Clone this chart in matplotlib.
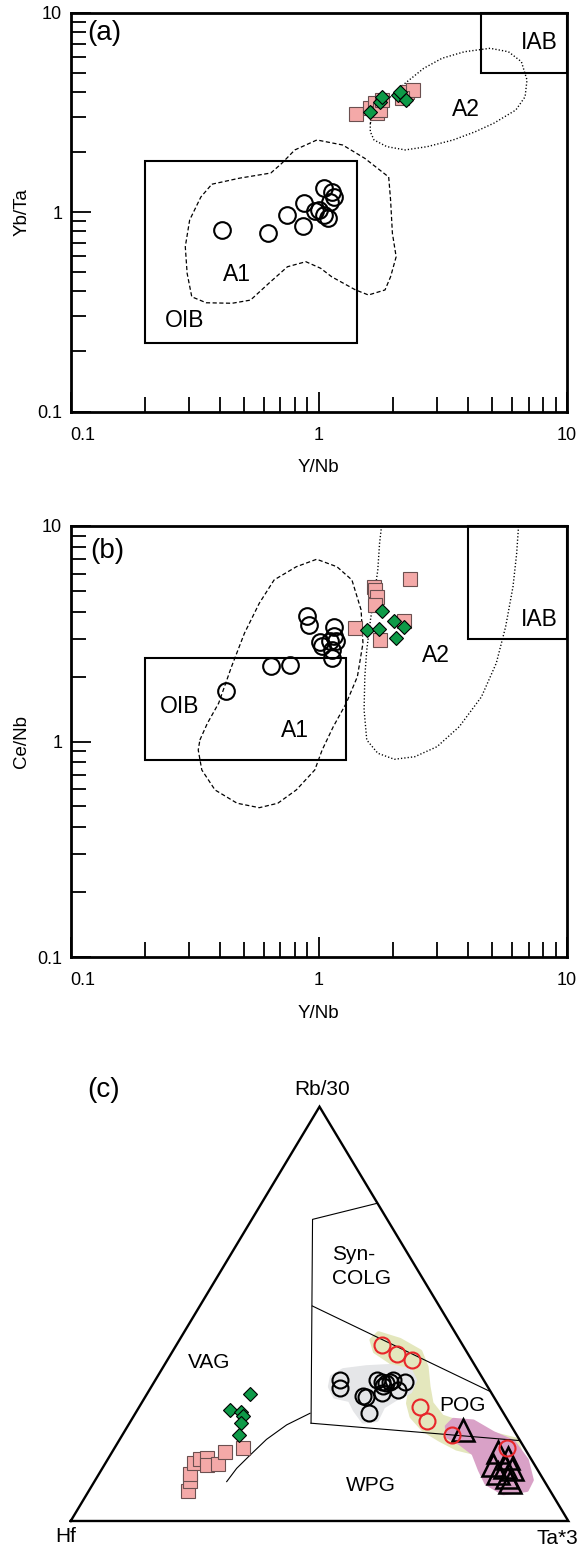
import numpy as np
from matplotlib import pyplot as plt
from matplotlib.patches import Rectangle, Polygon
from matplotlib.ticker import FixedLocator, LogLocator, NullFormatter

plt.rcParams['font.family'] = ['Liberation Sans', 'DejaVu Sans']
plt.rcParams['lines.scale_dashes'] = False

# ---------------- (a) Yb/Ta vs Y/Nb ----------------
a_circ_x = [0.408, 0.626, 0.748, 0.863, 0.875, 0.966, 1.0, 1.052, 1.127, 1.147, 1.052, 1.089, 1.108]
a_circ_y = [0.813, 0.783, 0.967, 0.855, 1.115, 1.016, 1.024, 1.316, 1.266, 1.195, 0.967, 0.931, 1.128]
a_sq_x = [1.409, 1.609, 1.685, 1.712, 1.765, 1.793, 2.262, 2.404, 2.158]
a_sq_y = [3.09, 3.32, 3.51, 3.13, 3.25, 3.65, 4.02, 4.10, 3.72]
a_dia_x = [1.609, 1.765, 1.793, 2.091, 2.125, 2.247]
a_dia_y = [3.19, 3.58, 3.79, 3.87, 4.02, 3.65]

a_oib = [0.2, 1.43, 0.22, 1.8]   # x0, x1, y0, y1
a_iab = [4.5, 10, 5.0, 10]
a_A1_x = [0.371, 0.480, 0.641, 0.711, 0.801, 0.983, 1.249, 1.533, 1.913, 1.947, 1.980, 2.05, 1.947,
          1.849, 1.586, 1.407, 1.127, 1.017, 0.887, 0.748, 0.630, 0.531, 0.448, 0.352, 0.308, 0.295,
          0.290, 0.302, 0.335, 0.371]
a_A1_y = [1.38, 1.48, 1.57, 1.76, 2.05, 2.30, 2.17, 1.86, 1.50, 1.15, 0.783, 0.597, 0.474,
          0.407, 0.384, 0.407, 0.474, 0.523, 0.564, 0.532, 0.44, 0.362, 0.349, 0.351, 0.376, 0.493,
          0.671, 0.913, 1.19, 1.38]
a_A2_x = [1.613, 1.698, 1.947, 2.23, 2.647, 3.14, 3.86, 4.90, 5.81, 6.55, 6.90, 6.78, 6.22, 5.07,
          4.27, 3.48, 2.74, 2.23, 1.88, 1.67, 1.613, 1.613]
a_A2_y = [2.79, 3.25, 3.79, 4.43, 5.26, 5.91, 6.37, 6.63, 6.37, 5.68, 4.60, 3.79, 3.25, 2.79,
          2.53, 2.30, 2.13, 2.05, 2.13, 2.30, 2.53, 2.79]

# ---------------- (b) Ce/Nb vs Y/Nb ----------------
b_circ_x = [0.424, 0.640, 0.766, 0.897, 0.916, 1.008, 1.027, 1.128, 1.152, 1.152, 1.174, 1.126, 1.110]
b_circ_y = [1.71, 2.23, 2.26, 3.81, 3.47, 2.90, 2.77, 2.43, 3.41, 3.08, 2.94, 2.66, 2.93]
b_sq_x = [1.40, 1.67, 1.692, 1.717, 1.692, 1.765, 2.33, 2.195]
b_sq_y = [3.35, 5.23, 5.05, 4.66, 4.30, 2.97, 5.66, 3.64]
b_dia_x = [1.569, 1.754, 1.793, 2.015, 2.205, 2.047]
b_dia_y = [3.29, 3.32, 4.05, 3.64, 3.41, 3.01]

b_oib = [0.2, 1.29, 0.82, 2.45]
b_iab = [4.0, 10, 3.0, 10]
b_A1_x = [0.332, 0.356, 0.395, 0.445, 0.502, 0.576, 0.661, 0.812, 0.981, 1.184, 1.36, 1.481, 1.507,
          1.431, 1.29, 1.144, 1.032, 0.964, 0.812, 0.684, 0.576, 0.469, 0.382, 0.338, 0.327, 0.332]
b_A1_y = [1.016, 1.215, 1.504, 2.22, 3.18, 4.38, 5.62, 6.47, 7.01, 6.47, 5.62, 4.08, 2.86,
          2.00, 1.504, 1.171, 0.913, 0.738, 0.596, 0.517, 0.493, 0.517, 0.596, 0.738, 0.913, 1.016]
b_A2_x = [1.79, 1.758, 1.729, 1.671, 1.615, 1.561, 1.533, 1.523, 1.561, 1.729, 2.017, 2.437, 2.995,
          3.68, 4.52, 5.19, 5.66, 6.06, 6.27, 6.38]
b_A2_y = [10.0, 8.31, 6.25, 4.70, 3.66, 2.66, 2.00, 1.40, 1.016, 0.882, 0.827, 0.850, 0.946,
          1.171, 1.61, 2.31, 3.41, 5.23, 7.47, 10.0]

# ---------------- (c) Hf - Rb/30 - Ta*3 (percent Rb/30, Ta*3; Hf = rest) ----------------
c_sq_rb = [7.3, 9.7, 11.3, 14.1, 14.9, 15.1, 13.5, 13.7, 16.6, 17.7]
c_sq_ta = [19.9, 19.1, 18.3, 17.7, 18.5, 19.9, 20.7, 22.8, 22.7, 25.7]
c_dia_rb = [30.7, 26.8, 26.4, 25.3, 23.7, 20.8]
c_dia_ta = [20.6, 18.6, 21.0, 22.0, 22.4, 23.5]
c_circ_rb = [34.0, 32.0, 30.2, 29.9, 26.1, 34.0, 33.6, 33.2, 33.6, 32.6, 30.8, 31.6, 33.6, 34.0]
c_circ_ta = [37.1, 38.1, 43.6, 44.4, 46.9, 44.6, 45.7, 46.7, 47.4, 46.5, 47.1, 50.0, 50.4, 47.8]
c_red_rb = [42.5, 40.3, 38.9, 27.6, 24.1, 20.8, 17.5]
c_red_ta = [41.3, 45.4, 49.2, 56.3, 59.5, 66.2, 79.0]
c_tri_rb = [22.0, 16.7, 15.1, 13.5, 13.1, 12.5, 11.7, 10.7, 9.5]
c_tri_ta = [67.9, 77.6, 80.4, 78.2, 80.7, 82.4, 80.1, 82.3, 83.5]

# field boundaries
c_line1_rb = [76.7, 72.8, 23.6]
c_line1_ta = [23.3, 12.2, 36.5]
c_line2_rb = [51.9, 31.2]
c_line2_ta = [22.6, 68.8]
c_line3_rb = [23.6, 19.4]
c_line3_ta = [36.5, 80.6]
c_curve_rb = [26.0, 23.2, 19.7, 15.9, 12.7, 9.5]
c_curve_ta = [35.1, 31.8, 29.5, 28.1, 27.0, 26.6]

# shaded envelopes
yellow_rb = [43.7, 45.3, 43.7, 40.9, 37.2, 32.4, 28.4, 25.2, 24.0, 21.2, 19.6, 17.1, 16.3, 17.5, 19.6,
             22.0, 25.2, 28.4, 31.6, 35.7, 38.5, 40.9]
yellow_ta = [38.6, 39.2, 44.3, 49.8, 52.9, 55.7, 58.3, 62.0, 65.6, 73.7, 79.8, 81.7, 73.4, 68.8, 64.4,
             59.9, 55.9, 53.6, 52.4, 49.3, 44.9, 40.7]
pink_rb = [22.8, 24.4, 24.0, 21.2, 19.1, 14.7, 9.9, 7.5, 6.7, 9.1, 12.3, 16.3, 18.8, 20.3]
pink_ta = [64.2, 64.7, 68.9, 74.3, 79.4, 84.3, 87.7, 87.9, 83.6, 79.0, 76.1, 72.8, 68.8, 65.7]
gray_rb = [34.8, 36.4, 37.1, 37.4, 36.4, 34.0, 31.2, 29.6, 27.6, 24.4, 24.0, 26.8, 29.2, 30.0, 32.4]
gray_ta = [35.1, 36.6, 40.9, 45.5, 50.0, 52.2, 52.6, 50.7, 49.0, 49.3, 46.8, 43.7, 41.5, 38.1, 35.9]

log_ticks = [0.1, 1, 10]
log_labels = ['0.1', '1', '10']

H_TRI = 0.8326

sq_style = dict(marker='s', ms=9.5, mfc='#f4a9a8', mec='#6b5050', mew=0.8, ls='none', zorder=4)
dia_style = dict(marker='D', ms=6.8, mfc='#0e9a48', mec='black', mew=0.8, ls='none', zorder=5)
circ_style = dict(marker='o', ms=12, mfc='none', mec='black', mew=1.5, ls='none', zorder=4)
field_font = 16.5
tern_font = 15


def tern(rb, ta):
    rb = np.asarray(rb) / 100.0
    ta = np.asarray(ta) / 100.0
    return ta + rb / 2.0, rb * H_TRI


def log_panel(ax, ylabel):
    ax.set_xscale('log')
    ax.set_yscale('log')
    ax.set_xlim(0.1, 10)
    ax.set_ylim(0.1, 10)
    for axis in (ax.xaxis, ax.yaxis):
        axis.set_major_locator(FixedLocator(log_ticks))
        axis.set_minor_locator(LogLocator(base=10, subs=np.arange(2, 10)))
        axis.set_minor_formatter(NullFormatter())
    ax.set_xticklabels(log_labels)
    ax.set_yticklabels(log_labels)
    ax.get_xticklabels()[0].set_ha('left')
    ax.tick_params(which='both', direction='in', top=False, right=False, width=1.3, labelsize=13)
    ax.tick_params(which='major', length=14.5)
    ax.tick_params(which='minor', length=11)
    ax.tick_params(axis='x', pad=11)
    ax.tick_params(axis='y', pad=6)
    for s in ax.spines.values():
        s.set_linewidth(2)
    ax.set_xlabel('Y/Nb', fontsize=13.5, labelpad=11)
    ax.set_ylabel(ylabel, fontsize=13.5, labelpad=5)


def box(ax, b):
    ax.add_patch(Rectangle((b[0], b[2]), b[1] - b[0], b[3] - b[2], fill=False,
                           lw=1.5, ec='black', zorder=2, clip_on=False))


def label(ax, x, y, s, size, ha='center'):
    ax.text(x, y, s, transform=ax.transAxes, fontsize=size, ha=ha, va='center')


if __name__ == '__main__':
    fig = plt.figure(figsize=(5.79, 15.49), dpi=100)

    # (a)
    ax = fig.add_axes([70.5 / 579, 1 - 411.5 / 1549, 496.5 / 579, 398.8 / 1549])
    log_panel(ax, 'Yb/Ta')
    box(ax, a_oib)
    box(ax, a_iab)
    ax.plot(a_A1_x, a_A1_y, color='black', lw=0.9, dashes=(3, 1.8), zorder=2)
    ax.plot(a_A2_x, a_A2_y, color='black', lw=1.0, dashes=(0.9, 1.5), zorder=2)
    ax.plot(a_circ_x, a_circ_y, **circ_style)
    ax.plot(a_sq_x, a_sq_y, **sq_style)
    ax.plot(a_dia_x, a_dia_y, **dia_style)
    label(ax, 0.033, 0.949, '(a)', 20, ha='left')
    label(ax, 0.335, 0.344, 'A1', field_font)
    label(ax, 0.229, 0.227, 'OIB', field_font)
    label(ax, 0.796, 0.758, 'A2', field_font)
    label(ax, 0.944, 0.925, 'IAB', field_font)

    # (b)
    ax = fig.add_axes([70.5 / 579, 1 - 957 / 1549, 496.5 / 579, 431 / 1549])
    log_panel(ax, 'Ce/Nb')
    box(ax, b_oib)
    box(ax, b_iab)
    ax.plot(b_A1_x, b_A1_y, color='black', lw=0.9, dashes=(3, 1.8), zorder=2)
    ax.plot(b_A2_x, b_A2_y, color='black', lw=1.0, dashes=(0.9, 1.5), zorder=2)
    ax.plot(b_circ_x, b_circ_y, **circ_style)
    ax.plot(b_sq_x, b_sq_y, **sq_style)
    ax.plot(b_dia_x, b_dia_y, **dia_style)
    label(ax, 0.039, 0.942, '(b)', 20, ha='left')
    label(ax, 0.2205, 0.581, 'OIB', field_font)
    label(ax, 0.452, 0.525, 'A1', field_font)
    label(ax, 0.736, 0.699, 'A2', field_font)
    label(ax, 0.945, 0.784, 'IAB', field_font)

    # (c) ternary
    ax = fig.add_axes([0, 0, 1, 499 / 1549])
    ax.set_xlim(-0.1421, 1.0215)
    ax.set_ylim(-0.0563, 0.9465)
    ax.axis('off')

    for rb, ta, clr in [(yellow_rb, yellow_ta, '#e4e7bd'), (pink_rb, pink_ta, '#d9a1c7'),
                        (gray_rb, gray_ta, '#e5e6e8')]:
        ax.add_patch(Polygon(np.column_stack(tern(rb, ta)), closed=True, fc=clr, ec=clr,
                             lw=3, joinstyle='round', zorder=1))

    tx, ty = tern([0, 0, 100, 0], [0, 100, 0, 0])
    ax.plot(tx, ty, color='black', lw=1.7, solid_joinstyle='miter', zorder=3)
    for rb, ta in [(c_line1_rb, c_line1_ta), (c_line2_rb, c_line2_ta),
                   (c_line3_rb, c_line3_ta), (c_curve_rb, c_curve_ta)]:
        x, y = tern(rb, ta)
        ax.plot(x, y, color='black', lw=0.8, zorder=2)

    x, y = tern(c_sq_rb, c_sq_ta)
    ax.plot(x, y, **sq_style)
    x, y = tern(c_dia_rb, c_dia_ta)
    ax.plot(x, y, **dia_style)
    x, y = tern(c_circ_rb, c_circ_ta)
    ax.plot(x, y, **dict(circ_style, ms=11.5))
    x, y = tern(c_tri_rb, c_tri_ta)
    ax.plot(x, y, marker='^', ms=16, mfc='none', mec='black', mew=1.8, ls='none', zorder=5)
    x, y = tern(c_red_rb, c_red_ta)
    ax.plot(x, y, marker='o', ms=11.5, mfc='none', mec='#e8262a', mew=1.5, ls='none', zorder=6)

    ax.text(0.5044, 0.868, 'Rb/30', fontsize=tern_font, ha='center', va='center')
    ax.text(-0.0094, -0.0315, 'Hf', fontsize=tern_font, ha='center', va='center')
    ax.text(0.936, -0.036, 'Ta*3', fontsize=tern_font, ha='left', va='center')
    ax.text(0.067, 0.866, '(c)', fontsize=20, ha='center', va='center')
    ax.text(0.5245, 0.511, 'Syn-\nCOLG', fontsize=tern_font, ha='left', va='center', linespacing=1.35)
    ax.text(0.278, 0.318, 'VAG', fontsize=tern_font, ha='center', va='center')
    ax.text(0.787, 0.233, 'POG', fontsize=tern_font, ha='center', va='center')
    ax.text(0.603, 0.071, 'WPG', fontsize=tern_font, ha='center', va='center')

    fig.savefig('out.png', dpi=100)
